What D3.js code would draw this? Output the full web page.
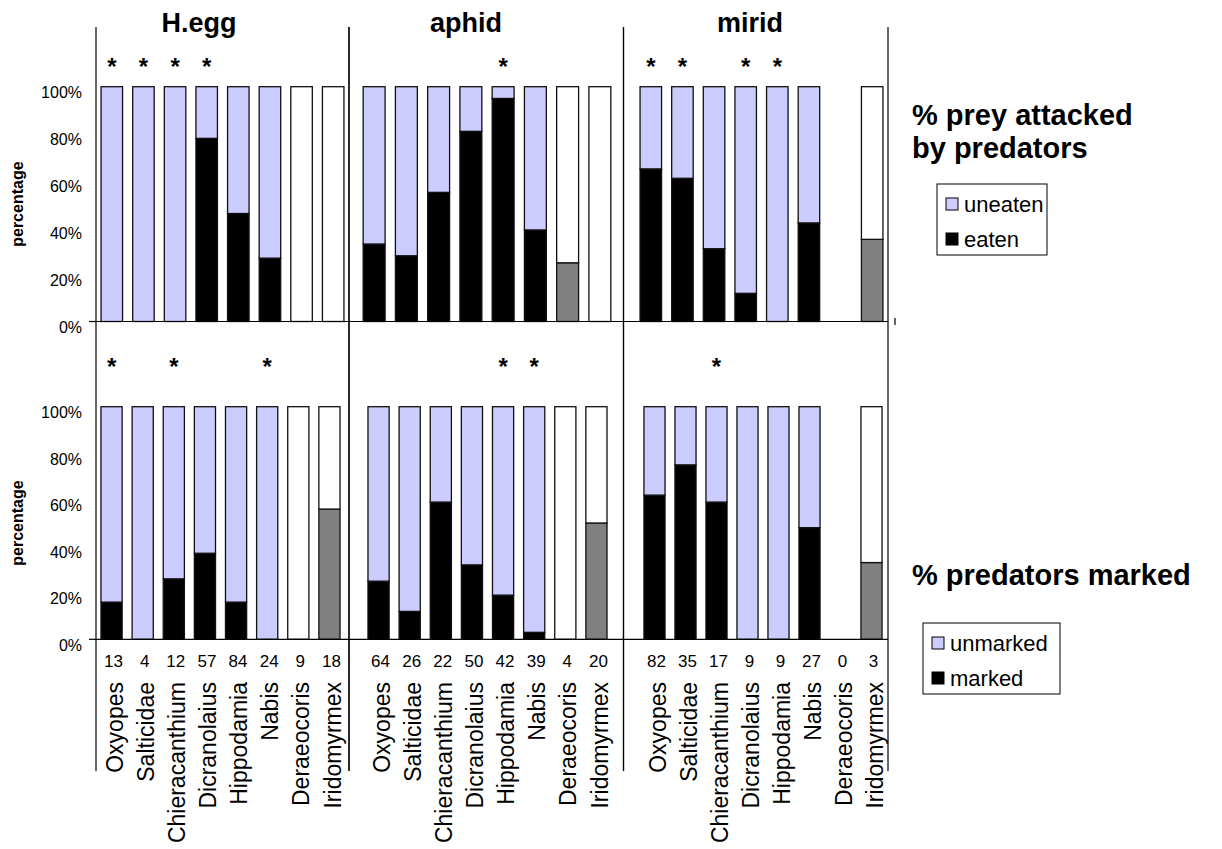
<!DOCTYPE html>
<html>
<head>
<meta charset="utf-8">
<script src="https://cdn.jsdelivr.net/npm/d3@7"></script>
<style>
body { margin: 0; background: #fff; }
svg text { font-family: "Liberation Sans", Arial, sans-serif; fill: #000; }
</style>
</head>
<body>
<script>
var width = 1222;
var height = 849;

// data
var species = ["Oxyopes", "Salticidae", "Chieracanthium", "Dicranolaius",
    "Hippodamia", "Nabis", "Deraeocoris", "Iridomyrmex"];
var preyTypes = ["H.egg", "aphid", "mirid"];

// % prey eaten (top row)
var eatenHegg = [0, 0, 0, 78, 46, 27, 0, 0];
var eatenAphid = [33, 28, 55, 81, 95, 39, 25, 0];
var eatenMirid = [65, 61, 31, 12, 0, 42, null, 35];

// % predators marked (bottom row)
var markedHegg = [16, 0, 26, 37, 16, 0, 0, 56];
var markedAphid = [25, 12, 59, 32, 19, 3, 0, 50];
var markedMirid = [62, 75, 59, 0, 0, 48, null, 33];

// number of predators tested
var nHegg = [13, 4, 12, 57, 84, 24, 9, 18];
var nAphid = [64, 26, 22, 50, 42, 39, 4, 20];
var nMirid = [82, 35, 17, 9, 9, 27, 0, 3];

// significant bars (index into species)
var starsTop = [[0, 1, 2, 3], [4], [0, 1, 3, 4]];
var starsBottom = [[0, 2, 5], [4, 5], [2]];

var yTicks = [0, 20, 40, 60, 80, 100];

var eaten = [eatenHegg, eatenAphid, eatenMirid];
var marked = [markedHegg, markedAphid, markedMirid];
var counts = [nHegg, nAphid, nMirid];

// layout of the three panels
var panels = [
    {left: 96, right: 349, titleX: 199, topBars: [96, 349], botBars: [96, 345]},
    {left: 349, right: 623.5, titleX: 466, topBars: [358, 616], botBars: [363, 612]},
    {left: 623.5, right: 888, titleX: 750, topBars: [635, 888], botBars: [639, 887]}
];

var yTop = d3.scaleLinear().domain([0, 100]).range([321.5, 86.7]);
var yBot = d3.scaleLinear().domain([0, 100]).range([639.3, 406.7]);

var svg = d3.select("body")
    .append("svg")
    .attr("width", width)
    .attr("height", height);

var stack = d3.stack().keys(["lower", "upper"]);

function fillFor(key, i) {
    if (key == "lower") return i < 6 ? "#000000" : "#808080";
    return i < 6 ? "#CCCCFF" : "#FFFFFF";
}

function drawBars(g, x, y, values) {
    var rows = [];
    values.forEach(function(v, i) {
        if (v == null) return;
        rows.push({sp: species[i], idx: i, lower: v, upper: 100 - v});
    });
    var series = stack(rows);
    g.selectAll("g.series")
        .data(series)
        .enter().append("g")
        .attr("class", "series")
        .selectAll("rect")
        .data(function(s) { return s.map(function(d) { d.key = s.key; return d; }); })
        .enter().append("rect")
        .filter(function(d) { return d[1] - d[0] > 0; })
        .attr("x", function(d) { return x(d.data.sp); })
        .attr("width", x.bandwidth())
        .attr("y", function(d) { return y(d[1]); })
        .attr("height", function(d) { return y(d[0]) - y(d[1]); })
        .attr("fill", function(d) { return fillFor(d.key, d.data.idx); })
        .attr("stroke", "#111")
        .attr("stroke-width", 1.3);
    // remove zero height rects
    g.selectAll("rect").filter(function(d) { return d[1] - d[0] <= 0; }).remove();
}

function drawStars(g, x, list, yBase) {
    g.selectAll("text.star")
        .data(list)
        .enter().append("text")
        .attr("class", "star")
        .attr("x", function(i) { return x(species[i]) + x.bandwidth() / 2; })
        .attr("y", yBase)
        .attr("text-anchor", "middle")
        .attr("font-size", 24)
        .attr("font-weight", "bold")
        .text("*");
}

panels.forEach(function(p, k) {
    var xTop = d3.scaleBand().domain(species).range(p.topBars)
        .paddingInner(0.32).paddingOuter(0.16);
    var xBot = d3.scaleBand().domain(species).range(p.botBars)
        .paddingInner(0.32).paddingOuter(0.16);

    var gTop = svg.append("g");
    var gBot = svg.append("g");

    drawBars(gTop, xTop, yTop, eaten[k]);
    drawBars(gBot, xBot, yBot, marked[k]);

    drawStars(gTop, xTop, starsTop[k], 75);
    drawStars(gBot, xBot, starsBottom[k], 375);

    // panel title
    svg.append("text")
        .attr("x", p.titleX)
        .attr("y", 32)
        .attr("text-anchor", "middle")
        .attr("font-size", 27)
        .attr("font-weight", "bold")
        .text(preyTypes[k]);

    // sample sizes
    gBot.selectAll("text.count")
        .data(counts[k])
        .enter().append("text")
        .attr("class", "count")
        .attr("x", function(d, i) { return xBot(species[i]) + xBot.bandwidth() / 2 + 2; })
        .attr("y", 667)
        .attr("text-anchor", "middle")
        .attr("font-size", 17)
        .text(function(d) { return d; });

    // species names
    gBot.selectAll("text.sp")
        .data(species)
        .enter().append("text")
        .attr("class", "sp")
        .attr("transform", function(d) {
            return "translate(" + (xBot(d) + xBot.bandwidth() / 2 + 3) + ",682) rotate(-90)";
        })
        .attr("dy", "0.35em")
        .attr("text-anchor", "end")
        .attr("font-size", 23)
        .text(function(d) { return d; });

    // panel frame lines
    [p.left, p.right].forEach(function(xx) {
        svg.append("line")
            .attr("x1", xx).attr("x2", xx)
            .attr("y1", 27).attr("y2", 771)
            .attr("stroke", "#000").attr("stroke-width", 1.2);
    });
});

// horizontal axis lines
[yTop(0), yBot(0)].forEach(function(yy) {
    svg.append("line")
        .attr("x1", 96).attr("x2", 888)
        .attr("y1", yy).attr("y2", yy)
        .attr("stroke", "#000").attr("stroke-width", 1.2);
});

// y axes
[yTop, yBot].forEach(function(y) {
    var ax = svg.append("g")
        .attr("transform", "translate(96,0)")
        .call(d3.axisLeft(y).tickValues(yTicks)
            .tickFormat(function(d) { return d + "%"; })
            .tickSize(0).tickPadding(14));
    ax.select(".domain").remove();
    ax.selectAll("text")
        .attr("font-family", "Liberation Sans, Arial, sans-serif")
        .attr("font-size", 16)
        .attr("dy", "0.68em");
    svg.append("line")
        .attr("x1", 89).attr("x2", 96)
        .attr("y1", y(0)).attr("y2", y(0))
        .attr("stroke", "#000").attr("stroke-width", 1.2);
});

// small mark at right of top row
svg.append("line")
    .attr("x1", 895).attr("x2", 895)
    .attr("y1", 318).attr("y2", 325)
    .attr("stroke", "#000").attr("stroke-width", 1.2);

// y titles
[yTop, yBot].forEach(function(y) {
    svg.append("text")
        .attr("transform", "translate(17," + y(50) + ") rotate(-90)")
        .attr("dy", "0.35em")
        .attr("text-anchor", "middle")
        .attr("font-size", 16)
        .attr("font-weight", "bold")
        .text("percentage");
});

// row titles
var rowTitles = [
    {lines: ["% prey attacked", "by predators"], y: 125},
    {lines: ["% predators marked"], y: 585}
];
rowTitles.forEach(function(t) {
    t.lines.forEach(function(s, i) {
        svg.append("text")
            .attr("x", 912)
            .attr("y", t.y + i * 33)
            .attr("font-size", 29)
            .attr("font-weight", "bold")
            .text(s);
    });
});

// legends
var legends = [
    {x: 937, y: 184, w: 110, items: ["uneaten", "eaten"]},
    {x: 923, y: 623, w: 137, items: ["unmarked", "marked"]}
];
legends.forEach(function(l) {
    var g = svg.append("g").attr("transform", "translate(" + l.x + "," + l.y + ")");
    g.append("rect")
        .attr("width", l.w).attr("height", 71)
        .attr("fill", "#fff").attr("stroke", "#000").attr("stroke-width", 1);
    l.items.forEach(function(s, i) {
        var cy = 20 + i * 35;
        g.append("rect")
            .attr("x", 9).attr("y", cy - 6)
            .attr("width", 12).attr("height", 12)
            .attr("fill", i == 0 ? "#CCCCFF" : "#000")
            .attr("stroke", "#000").attr("stroke-width", 1);
        g.append("text")
            .attr("x", 27).attr("y", cy)
            .attr("dy", "0.35em")
            .attr("font-size", 22)
            .text(s);
    });
});
</script>
</body>
</html>
